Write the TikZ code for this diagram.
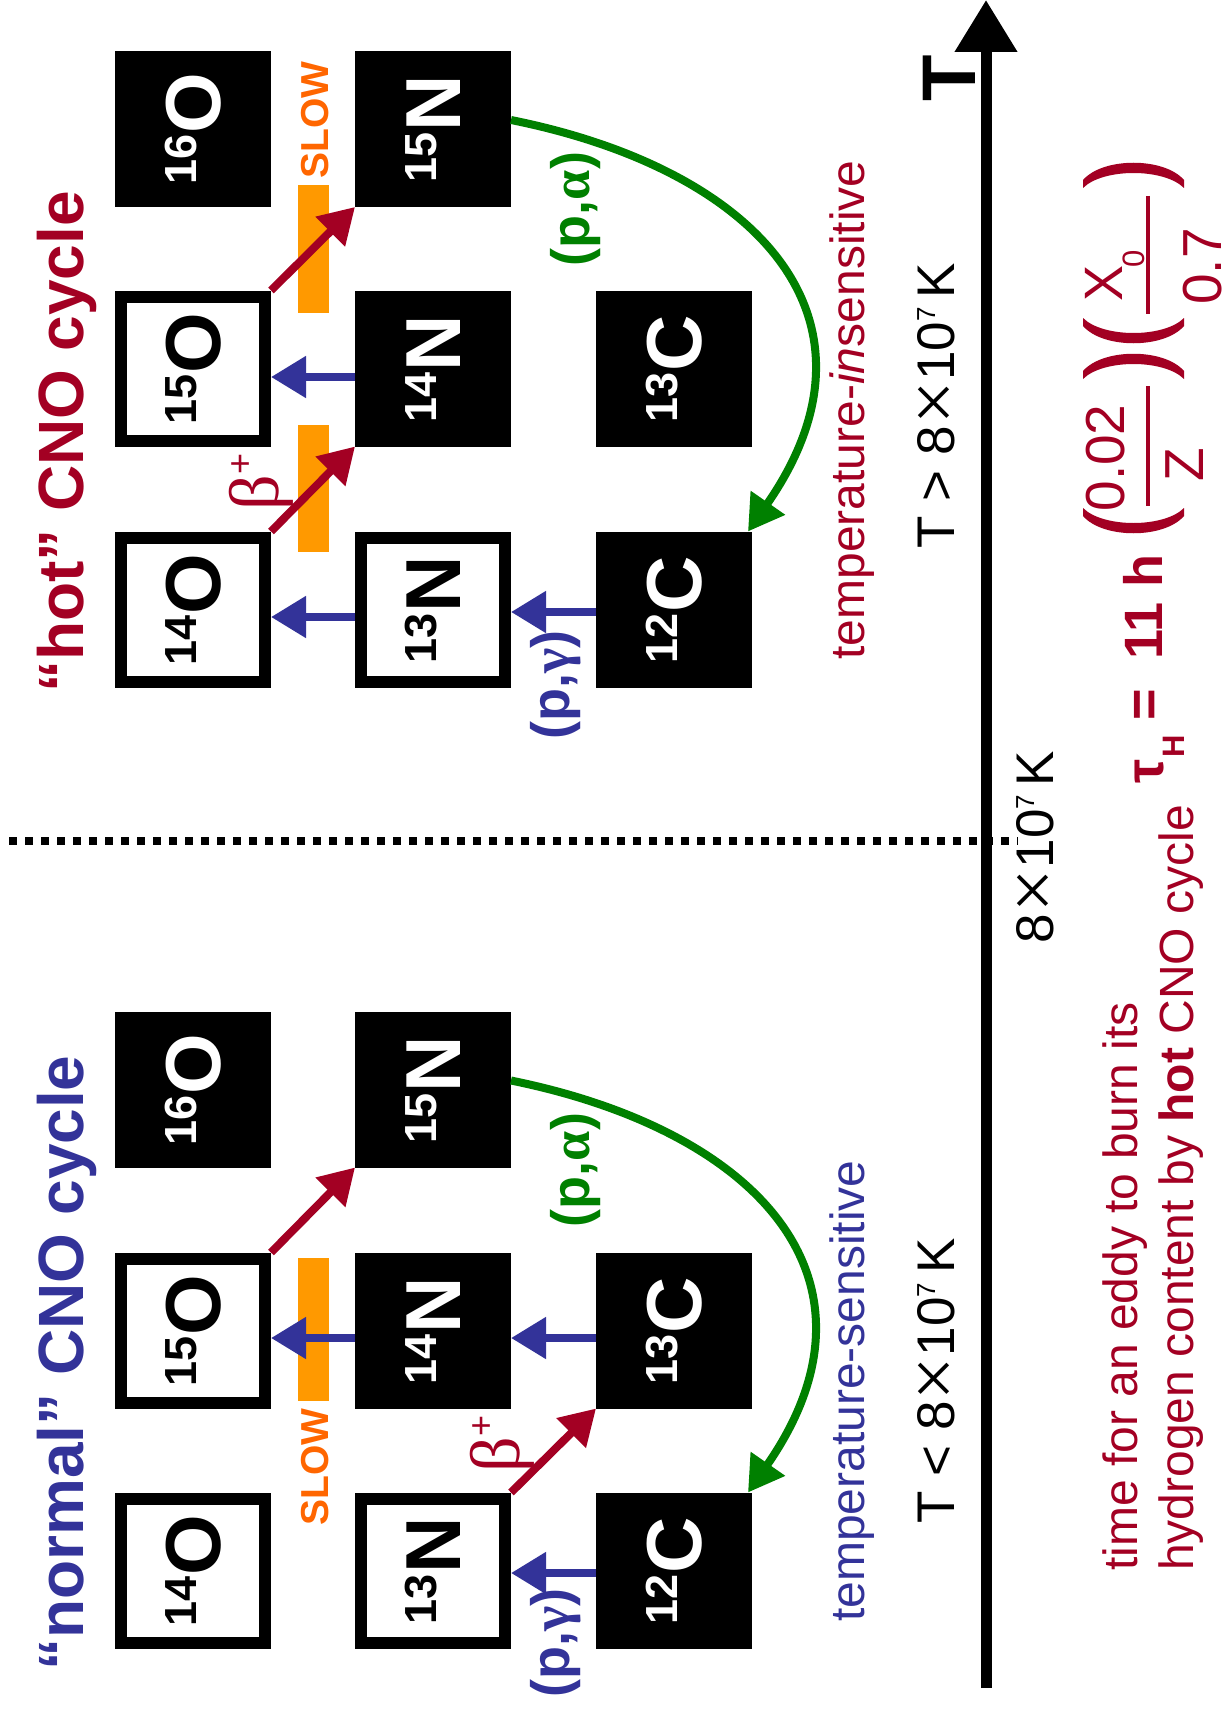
\documentclass[tikz,border=0pt]{standalone}
\usepackage{fontspec}
\setmainfont{Liberation Sans}
\newfontfamily\grserif{Liberation Serif}
\usepackage{graphicx}
\usetikzlibrary{arrows.meta}

\definecolor{cred}{RGB}{163,0,35}
\definecolor{cblue}{RGB}{51,51,153}
\definecolor{cgreen}{RGB}{0,128,0}
\definecolor{cbar}{RGB}{255,153,0}
\definecolor{cslow}{RGB}{255,102,0}

% font size shortcut (size = baselineskip)
\newcommand{\fs}[1]{\fontsize{#1pt}{#1pt}\selectfont}
% isotope label: mass number raised to cap height, turned to read upwards
\newcommand{\isot}[2]{\rotatebox{90}{\bfseries\fs{45}\raisebox{24pt}{#1}\kern1pt\fs{78}#2}}
% exponent 7 of 10^7 and a thin, wide multiplication sign
\newcommand{\supsev}{\raisebox{19pt}{\fs{26}7}}
\newcommand{\tms}{\kern1pt\raisebox{-5pt}{\scalebox{1.45}{\grserif ×}}\kern1pt}
% beta-plus label
\newcommand{\betaplus}{{\grserif\fs{70}β}\raisebox{26pt}{\fs{36}+}}
% big formula parentheses (e = end line of the glyph)
\newcommand{\closeparen}[1]{\fill[cred] (1083,#1-8) .. controls (1103,#1-31) and (1164,#1-31) .. (1184,#1-8) -- (1184,#1) .. controls (1164,#1-20) and (1103,#1-20) .. (1083,#1) -- cycle;}
\newcommand{\openparen}[1]{\fill[cred] (1083,#1+8) .. controls (1103,#1+31) and (1164,#1+31) .. (1184,#1+8) -- (1184,#1) .. controls (1164,#1+20) and (1103,#1+20) .. (1083,#1) -- cycle;}

\begin{document}
\begin{tikzpicture}[x=1pt,y=-1pt,
  bx/.style={rectangle,minimum size=144pt,inner sep=0pt,line width=12pt,draw=black},
  wbox/.style={bx,fill=white,text=black},
  kbox/.style={bx,fill=black,text=white},
  arrtip/.style={-{Triangle[length=35pt,width=40pt]}},
  bluearr/.style={draw=cblue,line width=8pt,arrtip},
  redarr/.style={draw=cred,line width=8pt,arrtip},
  greenarr/.style={draw=cgreen,line width=8pt,arrtip},
  rot/.style={rotate=90,inner sep=0pt,anchor=base},
  slowbar/.style={fill=cbar},
]
\fill[white] (0,0) rectangle (1223,1712);
\useasboundingbox (0,0) rectangle (1223,1712);

% ---------- slow beta decays ----------
\fill[slowbar] (298,185) rectangle (329,313);
\fill[slowbar] (298,425) rectangle (329,552);
\fill[slowbar] (298,1258) rectangle (329,1401);

% ---------- hot CNO cycle ----------
\node[kbox] (hO16) at (193,129)   {\isot{16}{O}};
\node[kbox] (hN15) at (433,129)   {\isot{15}{N}};
\node[wbox] (hO15) at (193,368.5) {\isot{15}{O}};
\node[kbox] (hN14) at (433,368.5) {\isot{14}{N}};
\node[kbox] (hC13) at (674,368.5) {\isot{13}{C}};
\node[wbox] (hO14) at (193,609.5) {\isot{14}{O}};
\node[wbox] (hN13) at (433,609.5) {\isot{13}{N}};
\node[kbox] (hC12) at (674,609.5) {\isot{12}{C}};

\draw[bluearr] ([yshift=-8.5pt]hN14.west) -- ([yshift=-8.5pt]hO15.east);
\draw[bluearr] ([yshift=-7.5pt]hN13.west) -- ([yshift=-7.5pt]hO14.east);
\draw[bluearr] ([yshift=-2.5pt]hC12.west) -- ([yshift=-2.5pt]hN13.east);
\draw[redarr] (hO14.north east) -- (hN14.south west);
\draw[redarr] (hO15.north east) -- (hN15.south west);
\draw[greenarr] ([yshift=9pt]hN15.east) .. controls (760,170) and (895,320) .. ([xshift=-4pt]hC12.north east);

% ---------- normal CNO cycle ----------
\node[kbox] (nO16) at (193,1089.5) {\isot{16}{O}};
\node[kbox] (nN15) at (433,1089.5) {\isot{15}{N}};
\node[wbox] (nO15) at (193,1330.5) {\isot{15}{O}};
\node[kbox] (nN14) at (433,1330.5) {\isot{14}{N}};
\node[kbox] (nC13) at (674,1330.5) {\isot{13}{C}};
\node[wbox] (nO14) at (193,1570.5) {\isot{14}{O}};
\node[wbox] (nN13) at (433,1570.5) {\isot{13}{N}};
\node[kbox] (nC12) at (674,1570.5) {\isot{12}{C}};

\draw[bluearr] ([yshift=-7.5pt]nN14.west) -- ([yshift=-7.5pt]nO15.east);
\draw[bluearr] ([yshift=-7.5pt]nC13.west) -- ([yshift=-7.5pt]nN14.east);
\draw[bluearr] ([yshift=-2.5pt]nC12.west) -- ([yshift=-2.5pt]nN13.east);
\draw[redarr] (nO15.north east) -- (nN15.south west);
\draw[redarr] (nN13.north east) -- (nC13.south west);
\draw[greenarr] ([yshift=9pt]nN15.east) .. controls (760,1131) and (895,1281) .. ([xshift=-4pt]nC12.north east);

% ---------- titles and reaction labels ----------
\node[rot,text=cred,font={\bfseries\fs{64}}] (thot) at (83,442) {“hot” CNO cycle};
\node[rot,text=cblue,font={\bfseries\fs{64}}] (tnorm) at (83,1363) {“normal” CNO cycle};

\node[rot,text=cslow,font={\bfseries\fs{39}}] (slow1) at (328,120) {SLOW};
\node[rot,text=cslow,font={\bfseries\fs{39}}] (slow2) at (328,1467) {SLOW};

\node[rot,text=cred] (bh) at (278,482) {\betaplus};
\node[rot,text=cred] (bn) at (519,1444) {\betaplus};

\node[rot,text=cblue,font={\bfseries\fs{54}}] (pgh) at (569,685) {(p,{\grserif γ})};
\node[rot,text=cblue,font={\bfseries\fs{54}}] (pgn) at (569,1643) {(p,{\grserif γ})};
\node[rot,text=cgreen,font={\bfseries\fs{54}}] (pah) at (589,209) {(p,{\grserif α})};
\node[rot,text=cgreen,font={\bfseries\fs{54}}] (pan) at (589,1170) {(p,{\grserif α})};

\node[rot,text=cred,font=\fs{48}] (tins) at (864,410) {temperature-\textit{in}sensitive};
\node[rot,text=cblue,font=\fs{48}] (tsen) at (864,1391) {temperature-sensitive};

\node[rot,font=\fs{53}] (rgh) at (954,405.5) {T > 8\tms10\supsev\,K};
\node[rot,font=\fs{53}] (rgn) at (954,1381) {T < 8\tms10\supsev\,K};

% ---------- temperature axis ----------
\coordinate (axlo) at (986,1688);
\coordinate (axhi) at (986,0);
\draw[line width=11pt,-{Triangle[length=52pt,width=60pt]}] (axlo) -- (axhi);
\node[rot,font={\bfseries\fs{76}}] (tax) at (975,78) {T};

\coordinate (dl) at (9,841);
\coordinate (dr) at (1018,841);
\draw[line width=8pt,dash pattern=on 8pt off 8pt] (dl) -- (dr);
\node[rot,font=\fs{53}] (tcut) at (1053,847) {8\tms10\supsev\,K};

% ---------- burning time ----------
\node[rot,anchor=base west,text=cred,font=\fs{48}] (d1) at (1137,1571) {time for an eddy to burn its};
\node[rot,anchor=base west,text=cred,font=\fs{48}] (d2) at (1193,1571) {hydrogen content by \textbf{hot} CNO cycle};

\node[rot,text=cred,font={\bfseries\fs{54}}] (ftau) at (1163,771) {τ};
\node[rot,text=cred,font={\bfseries\fs{31}}] (fH) at (1184,746) {H};
\node[rot,text=cred,font={\bfseries\fs{54}}] (feq) at (1162,704.5) {=};
\node[rot,text=cred,font={\bfseries\fs{54}}] (f11) at (1162,607) {11 h};

\openparen{508}
\closeparen{379}
\draw[cred,line width=4pt] (1148,386) -- (1148,506);
\node[rot,text=cred,font=\fs{55}] (fnum1) at (1124,458) {0.02};
\node[rot,text=cred,font=\fs{55}] (fden1) at (1203,465) {Z};

\openparen{318}
\closeparen{188}
\draw[cred,line width=4pt] (1148,196) -- (1148,314);
\node[rot,text=cred,font=\fs{54}] (fnum2) at (1122,283.5) {X};
\node[rot,text=cred,font=\fs{31}] (fsub2) at (1144,258.5) {0};
\node[rot,text=cred,font=\fs{55}] (fden2) at (1221,266.5) {0.7};
\end{tikzpicture}
\end{document}
